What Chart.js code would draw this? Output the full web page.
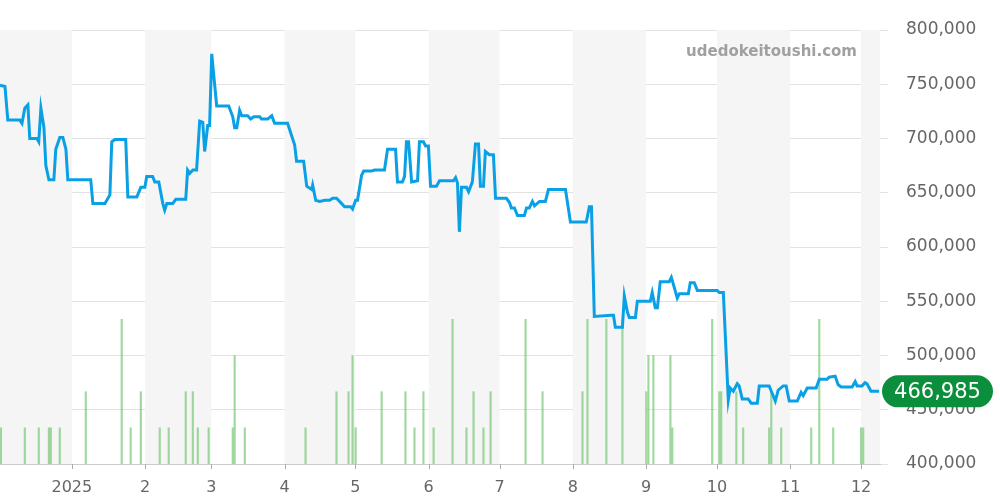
<!DOCTYPE html>
<html><head><meta charset="utf-8">
<script src="https://cdn.jsdelivr.net/npm/chart.js@4"></script>
<style>html,body{margin:0;padding:0;background:#fff}#w{width:1000px;height:500px}</style>
</head><body><div id="w"><canvas id="c"></canvas></div>
<script>
// days relative to 2025-01-01
const priceDays=[-30.4,-28.3,-27.1,-22,-21.1,-19.9,-18.6,-17.8,-14.8,-14,-13.1,-11.8,-11,-9.7,-7.6,-6.8,-5.1,-3.8,-2.5,-1.7,8,8.9,14,16.1,16.9,18.2,22.8,23.7,27.5,29.2,30.9,31.7,34.2,35.1,36.8,38.5,39.3,40.2,42.7,44,48.2,49,49.9,51.2,52.8,54.1,55.4,56.2,57.5,58.3,59.2,61.3,66.4,68.1,68.9,69.8,71,71.9,74.4,75.7,77,79.5,80.3,82.9,84.6,85.8,91.3,94.3,95.1,98.1,99.4,101.5,101.9,103.2,104.9,107,109.1,110.4,112,114.2,115.4,118,118.8,120.1,120.9,122.6,123.5,126.8,128.1,132.3,133.6,137,137.8,139.9,140.8,141.6,142.5,143.8,146.3,147.1,148.8,149.7,150.9,151.8,154.3,155.6,161.5,162.4,163.2,164,164.9,167,167.9,169.5,170.8,172.1,172.9,174.2,175,176.7,178.4,179.3,183.9,185.2,186,187.3,188.6,191.5,192.4,193.6,194.9,195.8,197.9,200.4,201.7,208.9,211,217.7,219,219.9,221.1,228.3,229.2,230,233,233.8,235.1,235.9,238.5,239.3,244.8,245.6,246.9,247.8,249,252.8,253.7,254.9,256.2,257.1,260.9,261.7,263.4,264.7,273.1,274,275.7,277.8,278.6,279.9,281.6,282.4,283.7,286.2,287.5,290.1,290.9,295.1,296.4,297.7,298.9,301,302.3,303.6,307,308.6,309.5,311.2,314.1,315,316.3,319.6,320.5,323,324.3,325.6,330.2,331.5,332.3,334.4,335.7,336.5,338.2,341.6];
const prices=[749,748,717,717,714,728,731,700,700,697,728,710,675,662,662,690,701,701,690,662,662,640,640,648,697,699,699,646,646,655,655,665,665,660,660,640,634,640,640,644,644,671,668,671,671,716,715,688,712,712,778,730,730,720,710,710,726,721,721,718,720,720,718,718,721,714,714,694,679,679,656,653,657,643,642,643,643,645,645,640,637,637,635,643,643,666,670,670,671,671,690,690,660,660,665,697,697,660,661,697,697,693,693,656,656,661,661,664,659,614,655,655,651,660,695,695,656,656,688,685,685,645,645,641,636,636,629,629,636,636,642,638,642,642,653,653,623,623,637,637,536,537,537,526,526,555,540,535,535,550,550,558,544,544,568,568,572,563,553,557,557,567,567,560,560,558,558,459,470,467,474,472,460,460,456,456,472,472,465,458,468,472,472,458,458,466,463,470,470,470,478,478,480,481,473,471,471,476,472,472,475,474,466.985,466.985].map(v=>v*1000);
const volDays=[-30,-19.9,-14,-9.7,-8.9,-5.1,5.9,21.1,24.9,29.2,37.2,41,48.2,51.2,53.3,57.9,68.1,68.9,73.2,98.9,112,117.1,118.8,120.1,131.1,141.2,145,148.8,153.1,161.1,167,170,174.2,177.2,192,199.2,216.1,218.2,226.2,233,243.1,244,246.1,253.3,254.1,271,274,274.8,281.2,284.1,295.1,296,300.2,312.9,316.3,322.2,334,334.9];
const volumes=[1,1,1,1,1,1,2,4,1,2,1,1,2,2,1,1,1,3,1,1,2,2,3,1,2,2,1,2,1,4,1,2,1,2,4,2,2,4,4,4,2,3,3,3,1,4,2,2,2,1,1,2,1,1,4,1,1,1];
const monthDays=[0,31,59,90,120,151,181,212,243,273,304,334];
const monthLabels=['2025','2','3','4','5','6','7','8','9','10','11','12'];
const shadedBands=[[-40,0],[31,59],[90,120],[151,181],[212,243],[273,304],[334,400]];

const bands={id:'bands',beforeDatasetsDraw(ch){const {ctx,chartArea:a,scales:{x}}=ch;ctx.save();ctx.fillStyle='#f5f5f5';
 shadedBands.forEach(([s,e])=>{const l=Math.max(a.left,x.getPixelForValue(s)),r=Math.min(a.right,x.getPixelForValue(e));if(r>l)ctx.fillRect(l,a.top,r-l,a.bottom-a.top);});
 ctx.restore();}};
const badge={id:'badge',afterDraw(ch){const {ctx,chartArea:a,scales:{x,y}}=ch;
 ctx.save();ctx.strokeStyle='#aaa';ctx.lineWidth=1;ctx.beginPath();
 monthDays.forEach(d=>{const px=Math.round(x.getPixelForValue(d))+0.5;ctx.moveTo(px,a.bottom);ctx.lineTo(px,a.bottom+5);});ctx.stroke();
 const v=prices[prices.length-1];const py=y.getPixelForValue(v);
 ctx.fillStyle='#0b8f3c';const l=882,r=993,h=32;ctx.beginPath();ctx.roundRect(l,py-h/2,r-l,h,16);ctx.fill();
 ctx.fillStyle='#fff';ctx.font='21px "DejaVu Sans"';ctx.textAlign='center';ctx.textBaseline='middle';ctx.fillText(v.toLocaleString('en-US',{maximumFractionDigits:0}),(l+r)/2,py+1);
 ctx.fillStyle='#a0a0a0';ctx.font='bold 15px "DejaVu Sans"';ctx.textAlign='right';ctx.fillText('udedokeitoushi.com',857,52);ctx.restore();}};

new Chart(document.getElementById('c'),{
 data:{datasets:[
  {type:'line',data:priceDays.map((d,i)=>({x:d,y:prices[i]})),borderColor:'#0aa0e6',borderWidth:3,pointRadius:0,tension:0,yAxisID:'y',order:1},
  {type:'bar',data:volDays.map((d,i)=>({x:d,y:volumes[i]})),backgroundColor:'rgba(120,200,120,0.7)',barThickness:1.5,yAxisID:'v',order:2}
 ]},
 options:{responsive:true,maintainAspectRatio:false,animation:false,
  layout:{padding:{top:30,left:0,right:0,bottom:0}},
  plugins:{legend:{display:false},tooltip:{enabled:false}},
  scales:{
   x:{type:'linear',min:-30.4,max:342,offset:false,
      afterBuildTicks(s){s.ticks=monthDays.map(v=>({value:v}));},
      ticks:{autoSkip:false,maxRotation:0,color:'#666',font:{size:16,family:'DejaVu Sans'},padding:6,callback:(v)=>monthLabels[monthDays.indexOf(v)]},
      grid:{display:false},border:{color:'#ccc'},
      afterFit(s){s.height=36;}},
   y:{position:'right',min:400000,max:800000,
      ticks:{stepSize:50000,color:'#666',font:{size:17,family:'DejaVu Sans'},padding:18,callback:v=>v.toLocaleString('en-US')},
      grid:{color:'#e2e2e2',tickLength:8},border:{display:false},
      afterFit(s){s.width=120;}},
   v:{display:false,min:0,max:12}
  }},
 plugins:[bands,badge]
});
</script></body></html>
